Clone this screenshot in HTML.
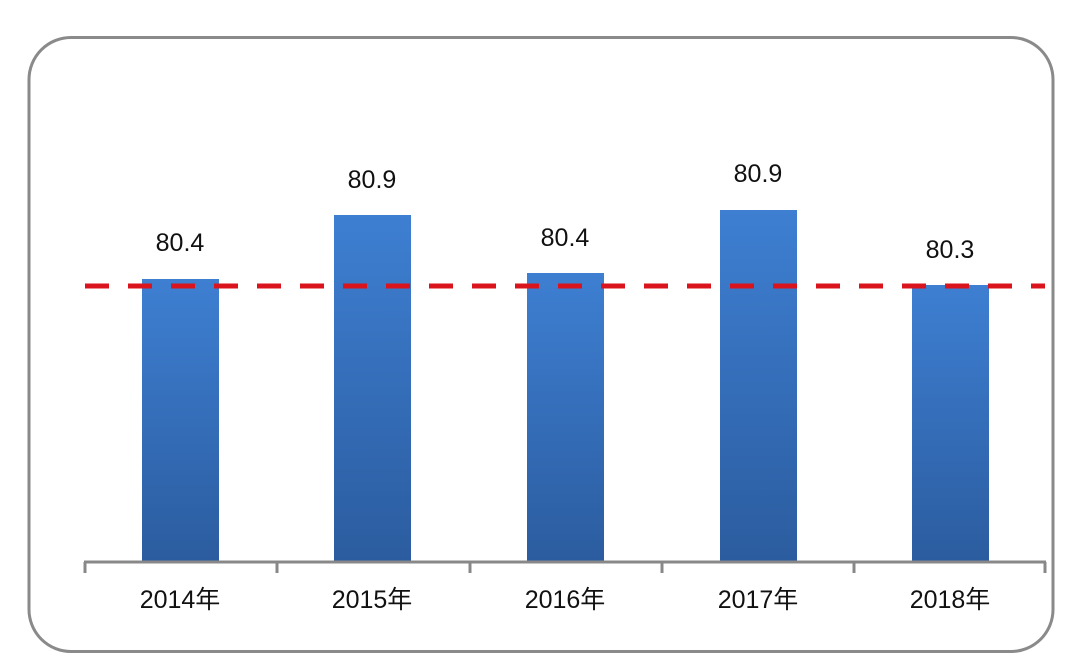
<!DOCTYPE html>
<html><head><meta charset="utf-8"><style>body{margin:0;background:#fff}</style></head><body>
<svg width="1080" height="664" xmlns="http://www.w3.org/2000/svg">
<defs><linearGradient id="g" x1="0" y1="0" x2="0" y2="1"><stop offset="0" stop-color="#3e7fd2"/><stop offset="1" stop-color="#2b5c9f"/></linearGradient></defs>
<rect x="29" y="37.5" width="1024" height="614" rx="42" fill="#fff" stroke="#8a8a8a" stroke-width="3"/>
<g fill="url(#g)">
<rect x="142" y="279" width="77" height="283"/>
<rect x="334" y="215" width="77" height="347"/>
<rect x="527" y="273" width="77" height="289"/>
<rect x="720" y="210" width="77" height="352"/>
<rect x="912" y="285" width="77" height="277"/>
</g>
<line x1="85" y1="286" x2="1045" y2="286" stroke="#d9141c" stroke-width="5" stroke-dasharray="24 19"/>
<g stroke="#888" stroke-width="3" fill="none">
<line x1="84" y1="562" x2="1046" y2="562"/>
<line x1="85" y1="562" x2="85" y2="573"/><line x1="277" y1="562" x2="277" y2="573"/><line x1="470" y1="562" x2="470" y2="573"/><line x1="662" y1="562" x2="662" y2="573"/><line x1="854" y1="562" x2="854" y2="573"/><line x1="1045" y1="562" x2="1045" y2="573"/>
</g>
<g font-family="Liberation Sans, Noto Sans CJK SC, sans-serif" font-size="25" fill="#111" text-anchor="middle">
<text x="180" y="251">80.4</text><text x="372" y="188">80.9</text><text x="565" y="246">80.4</text><text x="758" y="182">80.9</text><text x="950" y="258">80.3</text>
<text x="180" y="608">2014年</text><text x="372" y="608">2015年</text><text x="565" y="608">2016年</text><text x="758" y="608">2017年</text><text x="950" y="608">2018年</text>
</g>
</svg>
</body></html>
